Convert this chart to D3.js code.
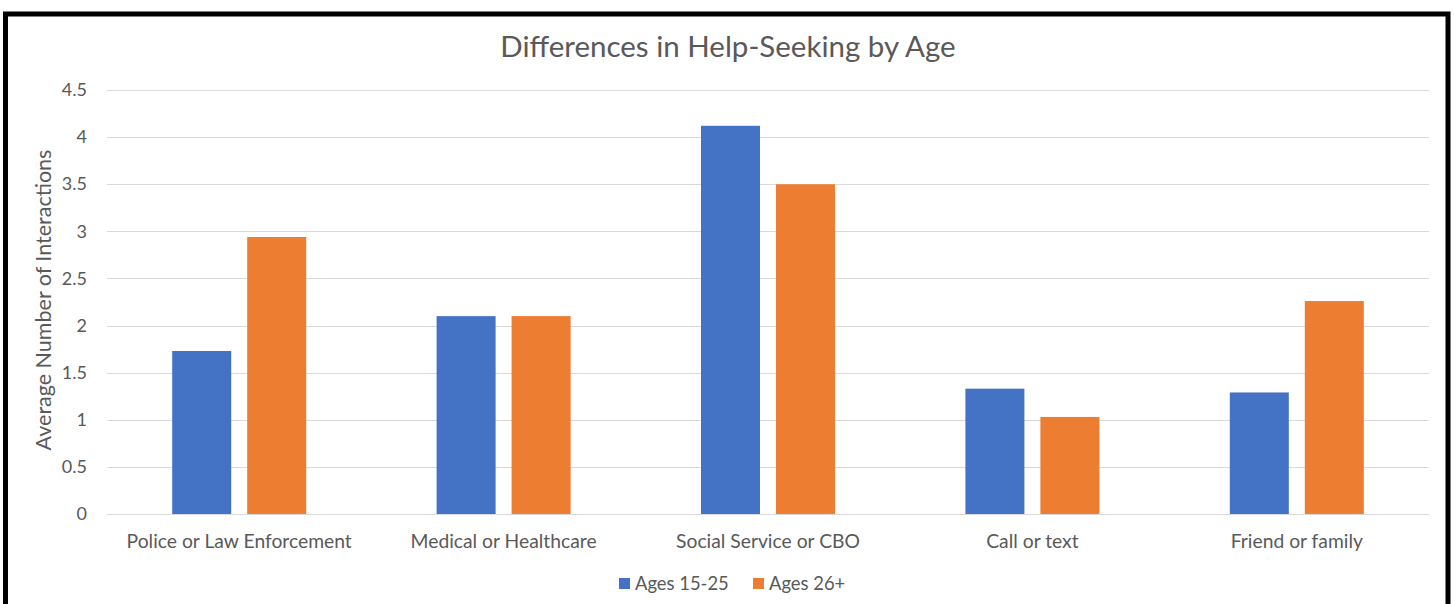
<!DOCTYPE html>
<html>
<head>
<meta charset="utf-8">
<script src="https://cdn.jsdelivr.net/npm/d3@7"></script>
<style>
  html, body { margin: 0; padding: 0; background: #fff; }
  svg { display: block; }
  text { font-family: Lato, "Open Sans", sans-serif; fill: #595959; }
</style>
</head>
<body>
<svg id="chart" width="1454" height="604"></svg>
<script>
// Help-seeking interactions by category and age group
const categories = ["Police or Law Enforcement", "Medical or Healthcare", "Social Service or CBO", "Call or text", "Friend or family"];
const seriesNames = ["Ages 15-25", "Ages 26+"];
const ages15to25 = [1.73, 2.1, 4.12, 1.33, 1.29];
const ages26plus = [2.94, 2.1, 3.5, 1.03, 2.26];
const yTicks = [0, 0.5, 1, 1.5, 2, 2.5, 3, 3.5, 4, 4.5];
const colors = ["#4472C4", "#ED7D31"];

const seriesValues = [ages15to25, ages26plus];
const rows = categories.map((c, i) => ({ category: c, values: seriesNames.map((s, j) => ({ series: s, value: seriesValues[j][i] })) }));

const svg = d3.select("#chart");
const W = 1454, H = 604;
const plot = { left: 107, right: 1429, top: 90, bottom: 514 };
const font = "Lato, 'Open Sans', sans-serif";

svg.append("rect").attr("width", W).attr("height", H).attr("fill", "#fff");

const x0 = d3.scaleBand().domain(categories).range([plot.left, plot.right]).padding(0);
const groupW = x0.bandwidth();
const pairW = 134;
const x1 = d3.scaleBand().domain(seriesNames)
  .range([(groupW - pairW) / 2, (groupW + pairW) / 2])
  .paddingInner(16 / 75).paddingOuter(0);
const y = d3.scaleLinear().domain([0, 4.5]).range([plot.bottom, plot.top]);
const color = d3.scaleOrdinal().domain(seriesNames).range(colors);

// Gridlines
svg.append("g")
  .selectAll("line")
  .data(yTicks)
  .join("line")
  .attr("x1", plot.left).attr("x2", plot.right)
  .attr("y1", d => Math.round(y(d)) + 0.5).attr("y2", d => Math.round(y(d)) + 0.5)
  .attr("stroke", "#d9d9d9").attr("stroke-width", 1);

// Y axis labels
const yAxis = d3.axisLeft(y).tickValues(yTicks).tickSize(0).tickPadding(0).tickFormat(d3.format("~g"));
svg.append("g")
  .attr("transform", `translate(${plot.left - 20},0)`)
  .call(yAxis)
  .call(g => g.select(".domain").remove())
  .selectAll("text")
  .attr("font-size", 18).attr("font-family", font).attr("fill", "#595959");

// Bars
svg.append("g")
  .selectAll("g")
  .data(rows)
  .join("g")
  .attr("transform", d => `translate(${x0(d.category)},0)`)
  .selectAll("rect")
  .data(d => d.values)
  .join("rect")
  .attr("x", d => x1(d.series))
  .attr("width", x1.bandwidth())
  .attr("y", d => y(d.value))
  .attr("height", d => y(0) - y(d.value))
  .attr("fill", d => color(d.series));

// Category labels
const xAxis = d3.axisBottom(x0).tickSize(0).tickPadding(0);
svg.append("g")
  .attr("transform", `translate(0,${plot.bottom + 34})`)
  .call(xAxis)
  .call(g => g.select(".domain").remove())
  .selectAll("text")
  .attr("dy", 0)
  .attr("font-size", 19.3).attr("font-family", font).attr("fill", "#595959");

// Title
svg.append("text")
  .attr("x", 728).attr("y", 57)
  .attr("text-anchor", "middle")
  .attr("font-size", 29.5)
  .text("Differences in Help-Seeking by Age");

// Y axis title
svg.append("text")
  .attr("transform", `translate(51,${(plot.top + plot.bottom) / 2 - 2}) rotate(-90)`)
  .attr("text-anchor", "middle")
  .attr("font-size", 21.5)
  .text("Average Number of Interactions");

// Legend
const legendItems = [{ name: seriesNames[0], x: 619 }, { name: seriesNames[1], x: 753 }];
const lg = svg.append("g").selectAll("g").data(legendItems).join("g")
  .attr("transform", d => `translate(${d.x},578)`);
lg.append("rect").attr("width", 11).attr("height", 11).attr("fill", d => color(d.name));
lg.append("text").attr("x", 16).attr("y", 11.5).attr("font-size", 18.4).text(d => d.name);

// Frame
svg.append("rect")
  .attr("x", 5.5).attr("y", 14)
  .attr("width", 1442.5).attr("height", 640)
  .attr("fill", "none").attr("stroke", "#000").attr("stroke-width", 5);
</script>
</body>
</html>
